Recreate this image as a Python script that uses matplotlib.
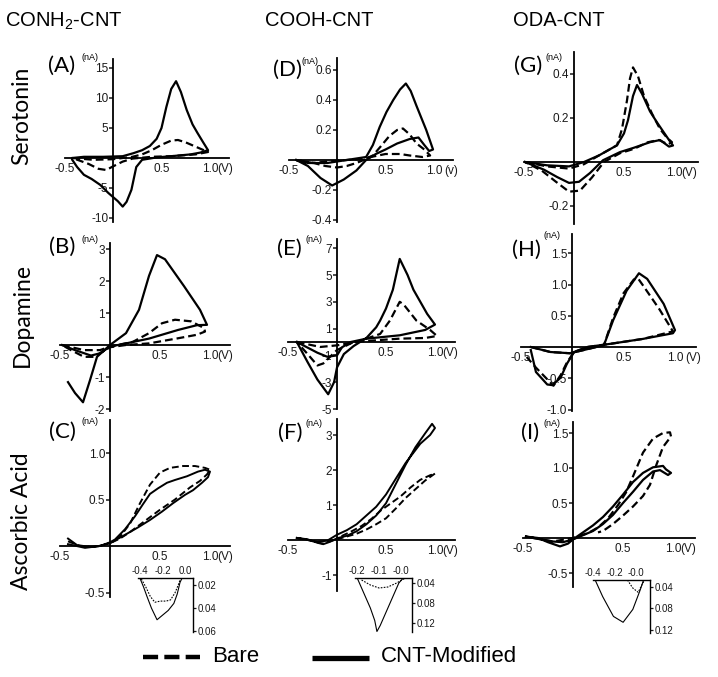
import matplotlib
matplotlib.use("Agg")
import matplotlib.pyplot as plt
from matplotlib.lines import Line2D

# ====================================
# DATA (potential V, current nA)
# ====================================

col_titles = ["CONH$_2$-CNT", "COOH-CNT", "ODA-CNT"]
row_titles = ["Serotonin", "Dopamine", "Ascorbic Acid"]
panel_tags = ["(A)", "(B)", "(C)", "(D)", "(E)", "(F)", "(G)", "(H)", "(I)"]

x_ticks = [-0.5, 0.5, 1.0]

# (A) CONH2 / serotonin
a_cnt_v = [-0.42, -0.3, -0.1, 0.1, 0.21, 0.3, 0.38, 0.45, 0.5, 0.55, 0.6, 0.65, 0.7, 0.76, 0.82, 0.87, 0.93, 0.98,
           0.9, 0.8, 0.6, 0.45, 0.3, 0.24, 0.19, 0.14, 0.1, 0.05, -0.05, -0.13, -0.22, -0.3, -0.37, -0.42]
a_cnt_i = [0.0, 0.2, 0.2, 0.3, 0.8, 1.3, 2.0, 3.2, 5.0, 8.5, 11.5, 12.8, 11.0, 8.0, 5.6, 4.2, 2.6, 1.3,
           0.9, 0.6, 0.3, 0.1, -0.3, -1.5, -5.3, -7.3, -8.1, -7.2, -5.8, -4.5, -3.5, -2.8, -1.5, -0.3]
a_bare_v = [-0.42, -0.2, 0.0, 0.2, 0.3, 0.4, 0.5, 0.6, 0.67, 0.75, 0.85, 0.95, 0.98,
            0.85, 0.6, 0.4, 0.2, 0.1, 0.0, -0.07, -0.15, -0.25, -0.35, -0.42]
a_bare_i = [0.0, -0.3, -0.2, 0.2, 0.6, 1.3, 2.2, 2.9, 3.0, 2.6, 1.9, 1.2, 1.0,
            0.6, 0.3, 0.2, -0.1, -0.6, -1.4, -2.0, -1.8, -1.0, -0.4, 0.0]
a_yticks = [15, 10, 5, -5, -10]

# (B) CONH2 / dopamine
b_cnt_v = [-0.42, -0.35, -0.27, -0.2, -0.13, 0.0, 0.16, 0.29, 0.39, 0.47, 0.55, 0.74, 0.9, 0.97,
           0.87, 0.68, 0.39, 0.16, 0.0, -0.1, -0.19, -0.35, -0.48]
b_cnt_i = [-1.16, -1.5, -1.79, -1.1, -0.37, 0.0, 0.37, 1.1, 2.16, 2.81, 2.68, 1.84, 1.1, 0.63,
           0.62, 0.47, 0.2, 0.05, -0.05, -0.26, -0.33, -0.16, 0.0]
b_bare_v = [-0.48, -0.26, -0.1, 0.0, 0.23, 0.39, 0.52, 0.65, 0.81, 0.94,
            0.95, 0.87, 0.68, 0.39, 0.16, 0.0, -0.16, -0.26, -0.39, -0.48]
b_bare_i = [0.0, -0.16, -0.16, -0.05, 0.1, 0.37, 0.68, 0.79, 0.74, 0.53,
            0.42, 0.32, 0.21, 0.05, 0.0, -0.07, -0.37, -0.37, -0.16, 0.0]
b_yticks = [3, 2, 1, -1, -2]

# (C) CONH2 / ascorbic acid
c_cnt_v = [-0.42, -0.33, -0.2, -0.1, 0.0, 0.15, 0.28, 0.4, 0.52, 0.63, 0.75, 0.83, 0.92, 0.98, 1.0,
           0.95, 0.88, 0.77, 0.65, 0.57, 0.48, 0.4, 0.33, 0.25, 0.15, 0.05, 0.0, -0.1, -0.25, -0.42]
c_cnt_i = [0.08, 0.01, -0.01, 0.0, 0.03, 0.12, 0.2, 0.28, 0.37, 0.46, 0.55, 0.6, 0.68, 0.74, 0.8,
           0.82, 0.8, 0.75, 0.71, 0.68, 0.62, 0.56, 0.45, 0.32, 0.18, 0.07, 0.04, 0.0, -0.02, 0.02]
c_bare_v = [-0.42, -0.3, -0.15, 0.0, 0.1, 0.2, 0.3, 0.4, 0.5, 0.6, 0.73, 0.85, 0.95, 1.0,
            0.97, 0.9, 0.8, 0.65, 0.5, 0.35, 0.2, 0.1, 0.0]
c_bare_i = [0.05, 0.0, -0.01, 0.03, 0.1, 0.24, 0.46, 0.66, 0.79, 0.84, 0.86, 0.86, 0.84, 0.82,
            0.77, 0.7, 0.63, 0.5, 0.39, 0.27, 0.15, 0.08, 0.03]
c_yticks = [1.0, 0.5, -0.5]

# (D) COOH / serotonin
d_cnt_v = [-0.42, -0.3, -0.1, 0.1, 0.3, 0.37, 0.44, 0.51, 0.58, 0.65, 0.71, 0.76, 0.82, 0.92, 0.99,
           0.95, 0.9, 0.84, 0.75, 0.62, 0.5, 0.4, 0.3, 0.2, 0.07, -0.05, -0.17, -0.3, -0.42]
d_cnt_i = [0.0, -0.02, -0.02, 0.0, 0.02, 0.1, 0.22, 0.32, 0.4, 0.47, 0.51, 0.46, 0.36, 0.2, 0.07,
           0.06, 0.1, 0.15, 0.14, 0.11, 0.07, 0.04, 0.0, -0.07, -0.13, -0.17, -0.12, -0.04, 0.0]
d_bare_v = [-0.42, -0.25, -0.1, 0.1, 0.3, 0.37, 0.45, 0.54, 0.62, 0.68, 0.75, 0.82, 0.9, 0.96,
            0.88, 0.75, 0.65, 0.5, 0.35, 0.2, 0.1, 0.0, -0.12, -0.24, -0.42]
d_bare_i = [0.0, -0.02, -0.01, 0.0, 0.01, 0.03, 0.09, 0.16, 0.2, 0.21, 0.17, 0.11, 0.07, 0.03,
            0.02, 0.03, 0.04, 0.04, 0.02, -0.02, -0.04, -0.05, -0.04, -0.02, 0.0]
d_yticks = [0.6, 0.4, 0.2, -0.2, -0.4]

# (E) COOH / dopamine
e_cnt_v = [-0.41, -0.3, -0.2, -0.09, -0.03, 0.0, 0.07, 0.17, 0.3, 0.4, 0.44, 0.5, 0.57, 0.64, 0.72,
           0.78, 0.92, 1.0, 0.9, 0.64, 0.3, 0.14, 0.05, 0.0, -0.1, -0.2, -0.41]
e_cnt_i = [0.0, -1.5, -2.8, -3.9, -3.0, -1.9, -0.9, -0.3, 0.3, 1.1, 1.6, 2.5, 3.9, 6.2, 5.0,
           3.9, 2.1, 1.3, 0.9, 0.5, 0.25, 0.0, -0.4, -1.0, -1.1, -0.8, 0.0]
e_bare_v = [-0.41, -0.17, 0.0, 0.2, 0.44, 0.54, 0.64, 0.68, 0.81, 0.95,
            1.02, 0.9, 0.64, 0.44, 0.17, 0.0, -0.14, -0.2, -0.3, -0.41]
e_bare_i = [0.0, -0.37, -0.25, 0.0, 0.6, 1.6, 3.0, 2.8, 1.6, 0.9,
            0.45, 0.3, 0.25, 0.15, 0.0, -0.6, -1.6, -1.75, -0.9, 0.0]
e_yticks = [7, 5, 3, 1, -1, -3, -5]

# (F) COOH / ascorbic acid
f_cnt_v = [-0.41, -0.3, -0.2, -0.14, -0.07, 0.0, 0.1, 0.2, 0.3, 0.4, 0.5, 0.6, 0.7, 0.8, 0.9,
           0.97, 1.0, 0.95, 0.85, 0.7, 0.6, 0.5, 0.4, 0.3, 0.2, 0.1, 0.0, -0.1, -0.2, -0.41]
f_cnt_i = [0.06, 0.02, -0.08, -0.12, -0.05, 0.05, 0.12, 0.25, 0.45, 0.7, 1.05, 1.6, 2.15, 2.65, 3.05,
           3.32, 3.2, 3.0, 2.75, 2.2, 1.75, 1.3, 0.95, 0.7, 0.45, 0.28, 0.15, -0.02, -0.05, 0.06]
f_bare_v = [-0.41, -0.3, -0.15, 0.0, 0.1, 0.2, 0.3, 0.4, 0.5, 0.6, 0.7, 0.8, 0.9, 1.0,
            0.95, 0.85, 0.75, 0.65, 0.55, 0.45, 0.35, 0.25, 0.15, 0.0]
f_bare_i = [0.05, 0.0, -0.1, 0.02, 0.1, 0.18, 0.3, 0.45, 0.62, 0.9, 1.2, 1.45, 1.7, 1.9,
            1.85, 1.72, 1.5, 1.25, 1.05, 0.85, 0.6, 0.4, 0.25, 0.05]
f_yticks = [3, 2, 1, -1]

# (G) ODA / serotonin
g_cnt_v = [-0.49, -0.27, -0.05, 0.1, 0.25, 0.43, 0.5, 0.54, 0.59, 0.63, 0.68, 0.76, 0.83, 0.89,
           0.95, 0.99, 0.95, 0.86, 0.76, 0.6, 0.46, 0.29, 0.16, 0.05, -0.05, -0.17, -0.3, -0.49]
g_cnt_i = [0.0, -0.015, -0.02, 0.0, 0.03, 0.076, 0.13, 0.19, 0.3, 0.35, 0.31, 0.23, 0.18, 0.14,
           0.1, 0.075, 0.07, 0.1, 0.09, 0.065, 0.045, 0.008, -0.05, -0.09, -0.095, -0.068, -0.035, 0.0]
g_bare_v = [-0.49, -0.27, -0.05, 0.1, 0.25, 0.43, 0.48, 0.53, 0.56, 0.59, 0.64, 0.7, 0.78, 0.86,
            0.93, 0.98, 0.94, 0.85, 0.74, 0.6, 0.46, 0.3, 0.18, 0.06, -0.05, -0.18, -0.32, -0.49]
g_bare_i = [0.0, -0.02, -0.03, -0.01, 0.03, 0.076, 0.15, 0.28, 0.38, 0.43, 0.39, 0.3, 0.22, 0.15,
            0.11, 0.09, 0.08, 0.1, 0.09, 0.06, 0.04, 0.0, -0.07, -0.13, -0.135, -0.09, -0.04, 0.0]
g_yticks = [0.4, 0.2, -0.2]

# (H) ODA / dopamine
h_cnt_v = [-0.4, -0.21, -0.02, 0.11, 0.31, 0.4, 0.53, 0.65, 0.73, 0.89, 1.0,
           0.98, 0.69, 0.37, 0.15, 0.02, -0.05, -0.11, -0.19, -0.24, -0.35, -0.4]
h_cnt_i = [0.0, -0.08, -0.1, -0.05, 0.03, 0.43, 0.9, 1.18, 1.09, 0.69, 0.27,
           0.22, 0.13, 0.05, 0.0, -0.08, -0.27, -0.49, -0.61, -0.6, -0.4, -0.05]
h_bare_v = [-0.4, -0.21, -0.02, 0.11, 0.31, 0.4, 0.5, 0.6, 0.64, 0.7, 0.85,
            0.98, 0.69, 0.37, 0.15, 0.02, -0.05, -0.11, -0.18, -0.25, -0.35, -0.44]
h_bare_i = [0.0, -0.08, -0.1, -0.05, 0.03, 0.47, 0.86, 1.08, 1.1, 0.96, 0.6,
            0.25, 0.13, 0.05, 0.0, -0.08, -0.25, -0.45, -0.62, -0.5, -0.33, -0.16]
h_yticks = [1.5, 1.0, 0.5, -0.5, -1.0]

# (I) ODA / ascorbic acid
i_cnt_v = [-0.47, -0.35, -0.25, -0.13, -0.05, 0.0, 0.1, 0.2, 0.3, 0.4, 0.5, 0.6, 0.7, 0.8, 0.9, 0.93,
           0.98, 0.95, 0.87, 0.8, 0.7, 0.6, 0.5, 0.4, 0.3, 0.2, 0.1, 0.0, -0.1, -0.2, -0.35, -0.47]
i_cnt_i = [0.02, 0.0, -0.06, -0.12, -0.08, -0.02, 0.08, 0.18, 0.3, 0.45, 0.62, 0.8, 0.93, 1.01, 1.03, 0.98,
           0.93, 0.9, 0.97, 0.95, 0.83, 0.66, 0.5, 0.33, 0.2, 0.1, 0.04, -0.02, -0.06, -0.05, -0.01, 0.02]
i_bare_v = [-0.4, -0.2, 0.0, 0.15, 0.25, 0.35, 0.45, 0.53, 0.6, 0.7, 0.8, 0.9, 0.97,
            0.98, 0.9, 0.83, 0.77, 0.7, 0.6, 0.5, 0.4, 0.3, 0.25]
i_bare_i = [0.0, -0.05, 0.0, 0.07, 0.15, 0.28, 0.47, 0.65, 0.88, 1.22, 1.42, 1.5, 1.51,
            1.45, 1.3, 1.03, 0.76, 0.6, 0.45, 0.32, 0.2, 0.1, 0.08]
i_yticks = [1.5, 1.0, 0.5, -0.5]

# insets (negative current shown as magnitude, nA)
c_in_cnt_v = [-0.4, -0.37, -0.34, -0.3, -0.25, -0.2, -0.15, -0.1, -0.07, -0.045, -0.03]
c_in_cnt_d = [0.015, 0.022, 0.03, 0.04, 0.05, 0.046, 0.042, 0.036, 0.028, 0.018, 0.015]
c_in_bare_v = [-0.39, -0.35, -0.31, -0.27, -0.22, -0.17, -0.13, -0.09, -0.06, -0.045]
c_in_bare_d = [0.015, 0.022, 0.03, 0.035, 0.034, 0.034, 0.033, 0.027, 0.02, 0.016]
c_in_xticks = [-0.4, -0.2, 0.0]
c_in_xlabels = ["-0.4", "-0.2", "0.0"]
c_in_yticks = [0.02, 0.04, 0.06]

f_in_cnt_v = [-0.2, -0.17, -0.14, -0.12, -0.11, -0.095, -0.07, -0.05, -0.03, -0.01, 0.01]
f_in_cnt_d = [0.03, 0.06, 0.09, 0.115, 0.137, 0.125, 0.1, 0.08, 0.06, 0.04, 0.03]
f_in_bare_v = [-0.18, -0.14, -0.1, -0.06, -0.02, 0.0, 0.02]
f_in_bare_d = [0.034, 0.044, 0.05, 0.048, 0.04, 0.035, 0.03]
f_in_xticks = [-0.2, -0.1, 0.0]
f_in_xlabels = ["-0.2", "-0.1", "-0.0"]
f_in_yticks = [0.04, 0.08, 0.12]

i_in_cnt_v = [-0.38, -0.31, -0.21, -0.12, -0.03, 0.04, 0.07]
i_in_cnt_d = [0.027, 0.058, 0.095, 0.106, 0.082, 0.045, 0.027]
i_in_bare_v = [-0.08, -0.03, 0.02, 0.06, 0.08]
i_in_bare_d = [0.027, 0.042, 0.05, 0.034, 0.027]
i_in_xticks = [-0.4, -0.2, 0.0]
i_in_xlabels = ["-0.4", "-0.2", "-0.0"]
i_in_yticks = [0.04, 0.08, 0.12]

# ====================================
# FIGURE
# ====================================

W, H = 718, 677
plt.rcParams["font.family"] = ["Liberation Sans", "DejaVu Sans"]
plt.rcParams["mathtext.fontset"] = "custom"
plt.rcParams["mathtext.rm"] = "Liberation Sans"
plt.rcParams["mathtext.it"] = "Liberation Sans"

fig = plt.figure(figsize=(W / 100, H / 100), dpi=100)

TICK_FS = 8.5
LW = 1.6
DASH = (3.5, 1.8)


def fx(x):
    return x / W


def fy(y):
    return 1 - y / H


def fmt(v):
    if float(v).is_integer() and abs(v) >= 1 and not isinstance(v, float):
        return str(v)
    return f"{v:.1f}"


def main_axes(x0, sx, y0, sy, xlim, ylim, yticks, unit, unit_dx):
    left = x0 + sx * xlim[0]
    right = x0 + sx * xlim[1]
    top = y0 - sy * ylim[1]
    bottom = y0 - sy * ylim[0]
    ax = fig.add_axes([fx(left), fy(bottom), (right - left) / W, (bottom - top) / H])
    ax.set_xlim(xlim)
    ax.set_ylim(ylim)
    ax.patch.set_alpha(0)
    for s in ["top", "right"]:
        ax.spines[s].set_visible(False)
    for s in ["left", "bottom"]:
        ax.spines[s].set_position(("data", 0))
        ax.spines[s].set_linewidth(1.3)
    ax.set_xticks(x_ticks)
    ax.set_xticklabels([f"{t:.1f}" for t in x_ticks])
    ax.set_yticks(yticks)
    ax.set_yticklabels([fmt(t) for t in yticks])
    ax.tick_params(axis="x", length=0, pad=3.5, labelsize=TICK_FS, colors="#1a1a1a")
    ax.tick_params(axis="y", direction="out", length=3, width=1.1, pad=0.5,
                   labelsize=TICK_FS, colors="#1a1a1a")
    ax.annotate(unit, xy=(1.0, 0), xycoords="data", xytext=(unit_dx, -3.5),
                textcoords="offset points", ha="left", va="top",
                fontsize=TICK_FS, color="#1a1a1a")
    return ax


def inset_axes(left, right, top, bottom, xlim, ylim, xticks, xlabels, yticks):
    ax = fig.add_axes([fx(left), fy(bottom), (right - left) / W, (bottom - top) / H])
    ax.set_xlim(xlim)
    ax.set_ylim(ylim)
    ax.patch.set_alpha(0)
    for s in ["left", "bottom"]:
        ax.spines[s].set_visible(False)
    for s in ["top", "right"]:
        ax.spines[s].set_linewidth(1.0)
    ax.xaxis.tick_top()
    ax.yaxis.tick_right()
    ax.set_xticks(xticks)
    ax.set_xticklabels(xlabels)
    ax.set_yticks(yticks)
    ax.set_yticklabels([f"{t:.2f}" for t in yticks])
    ax.tick_params(axis="x", length=0, pad=1.5, labelsize=7, colors="#1a1a1a")
    ax.tick_params(axis="y", direction="out", length=2.5, width=0.9, pad=0.5,
                   labelsize=7, colors="#1a1a1a")
    return ax


def draw(ax, bare_v, bare_i, cnt_v, cnt_i, lw=LW):
    ax.plot(bare_v, bare_i, color="black", lw=lw, dashes=DASH, solid_capstyle="butt")
    ax.plot(cnt_v, cnt_i, color="black", lw=lw)


# ====================================
# PANELS
# ====================================

ax_a = main_axes(113, 97, 158, 6.0, (-0.5, 1.2), (-10.7, 16.5), a_yticks, "(V)", 5.3)
draw(ax_a, a_bare_v, a_bare_i, a_cnt_v, a_cnt_i)

ax_b = main_axes(110, 100, 345, 32, (-0.5, 1.2), (-2.05, 3.2), b_yticks, "(V)", 5.3)
draw(ax_b, b_bare_v, b_bare_i, b_cnt_v, b_cnt_i)

ax_c = main_axes(110, 100, 546, 93, (-0.5, 1.2), (-0.55, 1.35), c_yticks, "(V)", 5.3)
draw(ax_c, c_bare_v, c_bare_i, c_cnt_v, c_cnt_i, lw=1.4)

ax_d = main_axes(337, 97, 160, 150, (-0.5, 1.2), (-0.41, 0.68), d_yticks, "(v)", 7.5)
draw(ax_d, d_bare_v, d_bare_i, d_cnt_v, d_cnt_i)

ax_e = main_axes(337, 98, 342, 13.4, (-0.5, 1.2), (-5.0, 7.7), e_yticks, "(V)", 5.3)
draw(ax_e, e_bare_v, e_bare_i, e_cnt_v, e_cnt_i)

ax_f = main_axes(337, 98, 540, 35, (-0.5, 1.2), (-1.45, 3.45), f_yticks, "(V)", 5.3)
draw(ax_f, f_bare_v, f_bare_i, f_cnt_v, f_cnt_i, lw=1.4)

ax_g = main_axes(574, 100, 162, 220, (-0.5, 1.24), (-0.28, 0.5), g_yticks, "(V)", 5.3)
draw(ax_g, g_bare_v, g_bare_i, g_cnt_v, g_cnt_i)

ax_h = main_axes(572, 103, 347, 62.5, (-0.5, 1.2), (-1.02, 1.8), h_yticks, "(V)", 7.5)
draw(ax_h, h_bare_v, h_bare_i, h_cnt_v, h_cnt_i)

ax_i = main_axes(573, 100, 538, 70, (-0.5, 1.22), (-0.7, 1.66), i_yticks, "(V)", 5.3)
draw(ax_i, i_bare_v, i_bare_i, i_cnt_v, i_cnt_i)

# insets
ax_ci = inset_axes(138, 193, 578, 632, (-0.42, 0.071), (0.0605, 0.0142),
                   c_in_xticks, c_in_xlabels, c_in_yticks)
ax_ci.plot(c_in_bare_v, c_in_bare_d, color="black", lw=0.8, dashes=(1.5, 1.2))
ax_ci.plot(c_in_cnt_v, c_in_cnt_d, color="black", lw=0.8)

ax_fi = inset_axes(355, 412, 578, 632, (-0.21, 0.05), (0.138, 0.03),
                   f_in_xticks, f_in_xlabels, f_in_yticks)
ax_fi.plot(f_in_bare_v, f_in_bare_d, color="black", lw=0.8, dashes=(1.5, 1.2))
ax_fi.plot(f_in_cnt_v, f_in_cnt_d, color="black", lw=0.8)

ax_ii = inset_axes(593, 650, 580, 633, (-0.4, 0.13), (0.126, 0.027),
                   i_in_xticks, i_in_xlabels, i_in_yticks)
ax_ii.plot(i_in_bare_v, i_in_bare_d, color="black", lw=0.8, dashes=(1.5, 1.2))
ax_ii.plot(i_in_cnt_v, i_in_cnt_d, color="black", lw=0.8)

# ====================================
# TEXT
# ====================================

col_x = [5, 265, 513]
for x, t in zip(col_x, col_titles):
    fig.text(fx(x), fy(21), t, fontsize=14.5, ha="left", va="center")

row_y = [116, 315, 521]
for y, t in zip(row_y, row_titles):
    fig.text(fx(22), fy(y), t, fontsize=16.5, rotation=90, ha="center", va="center",
             family=["Lato", "DejaVu Sans"])

tag_xy = [(62, 66), (62, 247), (62, 432), (288, 70), (289, 249), (290, 433),
          (528, 66), (526, 250), (530, 433)]
nA_xy = [(81, 58), (81, 240), (81, 421), (302, 62), (306, 240), (306, 423),
         (546, 57), (544, 236), (543, 423)]
for (x, y), t in zip(tag_xy, panel_tags):
    fig.text(fx(x), fy(y), t, fontsize=16, ha="center", va="center",
             family=["Lato", "DejaVu Sans"])
for (x, y) in nA_xy:
    fig.text(fx(x), fy(y), "(nA)", fontsize=6.5, ha="left", va="center")

# ====================================
# LEGEND
# ====================================

fig.add_artist(Line2D([fx(143), fx(200)], [fy(657), fy(657)], transform=fig.transFigure,
                      color="black", lw=3.2, dashes=(3.4, 1.4), solid_capstyle="butt"))
fig.text(fx(212), fy(657), "Bare", fontsize=16, ha="left", va="center")
fig.add_artist(Line2D([fx(312), fx(369)], [fy(658), fy(658)], transform=fig.transFigure,
                      color="black", lw=3.8, solid_capstyle="butt"))
fig.text(fx(381), fy(657), "CNT-Modified", fontsize=16, ha="left", va="center")

fig.savefig("out.png", dpi=100)
